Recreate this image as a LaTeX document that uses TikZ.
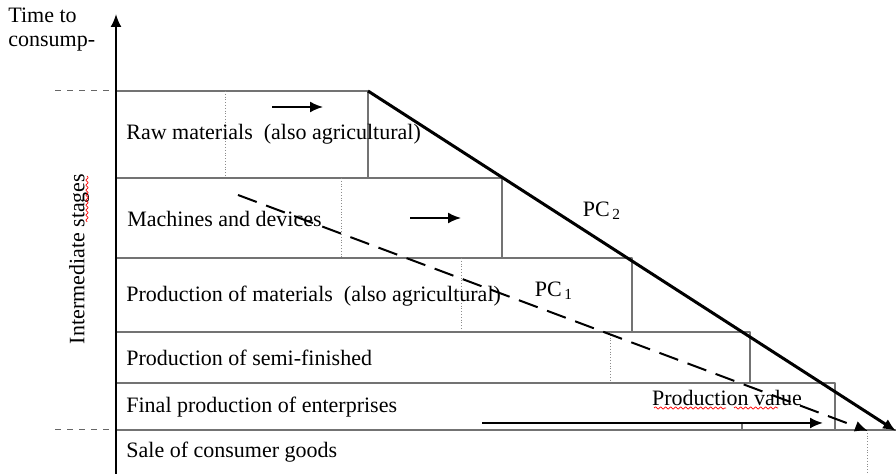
\documentclass[tikz,border=0pt]{standalone}
\usepackage{fontspec}
\setmainfont{Liberation Serif}
\usetikzlibrary{arrows.meta,decorations.pathmorphing}

\tikzset{
  txt/.style={inner sep=0pt, font=\fontsize{11}{13}\selectfont},
  stage/.style={txt, anchor=west},
  gridline/.style={draw=black!55, line width=0.7pt},
  dotline/.style={draw=black!45, line width=0.4pt, densely dotted},
  leadline/.style={draw=black!60, line width=0.5pt, dashed},
  spell/.style={draw=red, line width=0.35pt, decorate, decoration={snake, amplitude=0.6pt, segment length=2.5pt}},
}

\begin{document}
\begin{tikzpicture}[x=0.5pt, y=-0.5pt, line join=round, >={Latex[length=6.5pt,width=5.5pt]}]
  \useasboundingbox (0,0) rectangle (896,474);

  % rows of the production stages
  \foreach \t/\b/\r/\d in {91/178/368/225, 178/258/502/341, 258/332/632/461, 332/383/750/610}{
    \draw[gridline] (116,\t) rectangle (\r,\b);
    \draw[dotline] (\d,\t) -- (\d,\b);
  }
  \draw[gridline] (116,383) rectangle (835,430);
  \draw[gridline] (835,430) -- (896,430);
  \draw[gridline] (742,423) -- (742,430);
  \draw[dotline] (867,430) -- (867,474);

  % lead-in marks and axis
  \draw[leadline] (55,91) -- (116,91);
  \draw[leadline] (55,430) -- (116,430);
  \coordinate (ax0) at (116,474);
  \coordinate (ax1) at (116,14);
  \draw[->, line width=1pt] (ax0) -- (ax1);

  \node[txt, anchor=north west, align=left] (tcons) at (8,8) {Time to\\[-1pt]consump-};
  \node[txt, rotate=90] (inter) at (79,259) {Intermediate stages};

  % stage labels
  \node[stage] (raw) at (126,134) {Raw materials\hspace{0.5em}(also agricultural)};
  \node[stage] (mach) at (127,219) {Machines and devices};
  \node[stage] (prodm) at (126,296) {Production of materials\hspace{0.5em}(also agricultural)};
  \node[stage] (semi) at (126,358) {Production of semi-finished};
  \node[stage] (final) at (126,407) {Final production of enterprises};
  \node[stage] (sale) at (126,452) {Sale of consumer goods};

  % short arrows inside the rows
  \coordinate (ra0) at (272,107);
  \coordinate (ra1) at (323,107);
  \coordinate (ma0) at (410,218);
  \coordinate (ma1) at (461,218);
  \draw[->, line width=0.9pt] (ra0) -- (ra1);
  \draw[->, line width=0.9pt] (ma0) -- (ma1);

  % production curves
  \coordinate (pc2a) at (368,91);
  \coordinate (pc2b) at (896,431);
  \coordinate (pc1a) at (238,195);
  \coordinate (pc1b) at (868,431);
  \draw[->, line width=1.5pt] (pc2a) -- (pc2b);
  \draw[->, line width=1pt, dash pattern=on 10pt off 5pt] (pc1a) -- (pc1b);
  \node[txt] (pc2) at (602,211) {PC\textsubscript{\,2}};
  \node[txt] (pc1) at (554,291) {PC\textsubscript{\,1}};

  % production value
  \coordinate (pv0) at (482,423);
  \coordinate (pv1) at (823,423);
  \draw[->, line width=1pt] (pv0) -- (pv1);
  \node[txt] (pval) at (727,398) {Production value};
  \draw[spell] (654,408) -- (726,408);
  \draw[spell] (734,408) -- (778,408);
  \draw[spell] (87,176) -- (87,222);
\end{tikzpicture}
\end{document}
